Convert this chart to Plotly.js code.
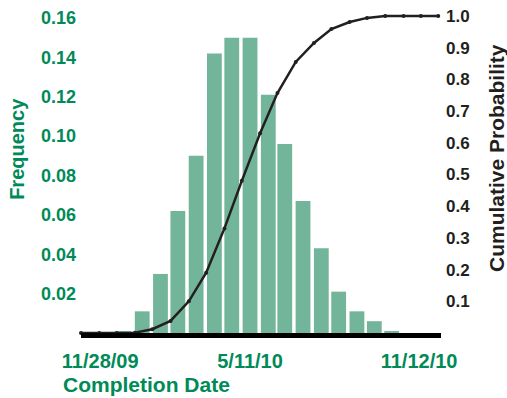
<!DOCTYPE html>
<html>
<head>
<meta charset="utf-8">
<script src="https://cdn.plot.ly/plotly-3.0.1.min.js"></script>
<style>html,body{margin:0;padding:0;background:#fff;}#chart{width:507px;height:398px;}</style>
</head>
<body>
<div id="chart"></div>
<script>
// Histogram bins (bin mid dates) and frequencies
var binDates = ['2009-12-24','2010-01-13','2010-02-02','2010-02-21','2010-03-13','2010-04-02','2010-04-21','2010-05-11',
                '2010-05-31','2010-06-18','2010-07-08','2010-07-28','2010-08-16','2010-09-05','2010-09-24','2010-10-13'];
var frequency = [0.001,0.011,0.030,0.062,0.090,0.142,0.150,0.150,0.121,0.096,0.067,0.043,0.021,0.011,0.006,0.001];

// Cumulative probability at bin edges
var edgeDates = ['2009-11-07','2009-11-27','2009-12-16','2010-01-05','2010-01-24','2010-02-13','2010-03-05','2010-03-24',
                 '2010-04-13','2010-05-02','2010-05-22','2010-06-10','2010-06-30','2010-07-20','2010-08-08','2010-08-28',
                 '2010-09-16','2010-10-06','2010-10-26','2010-11-14','2010-12-03'];
var cumulative = [0,0,0,0.001,0.012,0.038,0.100,0.190,0.330,0.480,0.630,0.757,0.855,0.915,0.959,0.981,0.994,1.0,1.0,1.0,1.0];

// Tick labels
var xTickVals = ['2009-11-28','2010-05-11','2010-11-12'];
var xTickText = ['11/28/09','5/11/10','11/12/10'];
var freqTicks = [0.02,0.04,0.06,0.08,0.10,0.12,0.14,0.16];
var cumTicks = [0.1,0.2,0.3,0.4,0.5,0.6,0.7,0.8,0.9,1.0];

var GREEN = '#008a58';
var BAR = '#72b59b';
var DARK = '#231f20';
var FONT = 'Liberation Sans, Arial, sans-serif';
var DAY = 86400000;

var traces = [
  {
    type: 'bar', x: binDates, y: frequency, yaxis: 'y',
    marker: {color: BAR, line: {width: 0}},
    width: 16.2 * DAY, hoverinfo: 'skip'
  },
  {
    type: 'scatter', mode: 'lines+markers', x: edgeDates, y: cumulative, yaxis: 'y2',
    line: {color: DARK, width: 2.5},
    marker: {color: DARK, size: 4},
    cliponaxis: false, hoverinfo: 'skip'
  }
];

var layout = {
  width: 507, height: 398,
  margin: {l: 81, r: 66, t: 14, b: 65},
  paper_bgcolor: '#fff', plot_bgcolor: '#fff',
  showlegend: false,
  font: {family: FONT},
  xaxis: {
    type: 'date',
    range: ['2009-11-07', '2010-12-06'],
    tickmode: 'array', tickvals: xTickVals, ticktext: xTickText,
    tickfont: {family: FONT, size: 20, color: GREEN, weight: 'bold'},
    showgrid: false, zeroline: false,
    showline: true, linecolor: '#000', linewidth: 5,
    ticks: '', ticklabelstandoff: 6
  },
  yaxis: {
    range: [0, 0.162],
    tickmode: 'array', tickvals: freqTicks, tickformat: '.2f',
    tickfont: {family: FONT, size: 18, color: GREEN, weight: 'bold'},
    showgrid: false, zeroline: false, showline: false, ticks: '',
    ticklabelstandoff: 4
  },
  yaxis2: {
    overlaying: 'y', side: 'right',
    range: [0, 1.0063],
    tickmode: 'array', tickvals: cumTicks, tickformat: '.1f',
    tickfont: {family: FONT, size: 17, color: DARK, weight: 'bold'},
    showgrid: false, zeroline: false, showline: false, ticks: '',
    ticklabelstandoff: 4
  },
  annotations: [
    {text: 'Frequency', xref: 'paper', yref: 'paper', x: -0.178, y: 0.577,
     xanchor: 'center', yanchor: 'middle', textangle: -90, showarrow: false,
     font: {family: FONT, size: 20, color: GREEN, weight: 'bold'}},
    {text: 'Cumulative Probability', xref: 'paper', yref: 'paper', x: 1.156, y: 0.549,
     xanchor: 'center', yanchor: 'middle', textangle: -90, showarrow: false,
     font: {family: FONT, size: 21, color: DARK, weight: 'bold'}},
    {text: 'Completion Date', xref: 'paper', yref: 'paper', x: 0.183, y: -0.163,
     xanchor: 'center', yanchor: 'middle', showarrow: false,
     font: {family: FONT, size: 21, color: GREEN, weight: 'bold'}}
  ]
};

Plotly.newPlot('chart', traces, layout, {displayModeBar: false, staticPlot: true});
</script>
</body>
</html>
